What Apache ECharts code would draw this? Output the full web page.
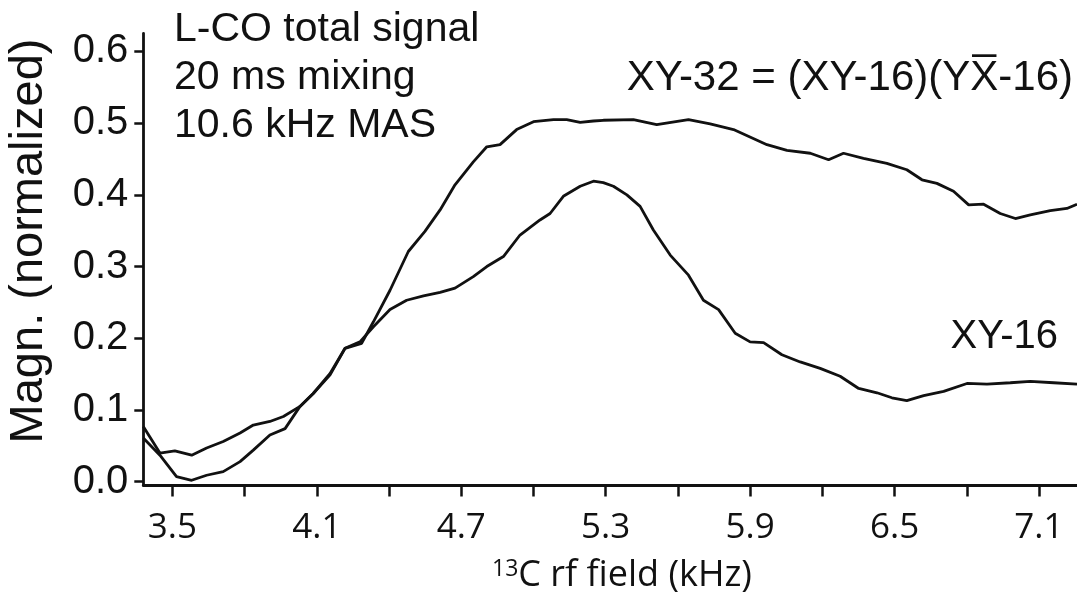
<!DOCTYPE html>
<html>
<head>
<meta charset="utf-8">
<script src="https://cdn.jsdelivr.net/npm/echarts@6/dist/echarts.min.js"></script>
<style>
html,body{margin:0;padding:0;background:#fff;}
#chart{width:1077px;height:596px;}
</style>
</head>
<body>
<div id="chart"></div>
<script>
// ---- data ----
const xy16X = [3.379,3.448,3.510,3.580,3.642,3.711,3.781,3.836,3.905,3.961,4.030,4.085,4.155,4.217,4.279,4.335,4.404,4.473,4.543,4.612,4.674,4.750,4.806,4.875,4.944,5.027,5.069,5.124,5.194,5.249,5.290,5.332,5.388,5.443,5.498,5.568,5.644,5.706,5.769,5.838,5.900,5.956,6.032,6.108,6.191,6.274,6.351,6.427,6.489,6.551,6.621,6.704,6.801,6.884,6.981,7.064,7.161,7.258];
const xy16Y = [0.077,0.040,0.043,0.037,0.047,0.056,0.068,0.079,0.084,0.091,0.105,0.123,0.151,0.186,0.195,0.216,0.240,0.253,0.259,0.264,0.270,0.286,0.300,0.314,0.344,0.365,0.374,0.398,0.412,0.419,0.417,0.412,0.400,0.384,0.351,0.316,0.288,0.253,0.240,0.207,0.195,0.194,0.177,0.167,0.158,0.147,0.130,0.124,0.117,0.113,0.120,0.126,0.137,0.136,0.138,0.140,0.138,0.136];
const xy32X = [3.379,3.448,3.517,3.580,3.642,3.711,3.781,3.836,3.905,3.968,4.030,4.085,4.155,4.217,4.286,4.335,4.404,4.480,4.549,4.612,4.674,4.750,4.806,4.861,4.930,5.000,5.083,5.138,5.194,5.249,5.290,5.415,5.512,5.644,5.734,5.831,5.970,6.053,6.150,6.226,6.288,6.371,6.468,6.551,6.614,6.676,6.745,6.808,6.870,6.939,7.002,7.064,7.147,7.216,7.258];
const xy32Y = [0.061,0.037,0.007,0.002,0.009,0.014,0.028,0.044,0.065,0.074,0.105,0.123,0.149,0.186,0.193,0.223,0.267,0.321,0.349,0.379,0.414,0.446,0.467,0.470,0.491,0.502,0.505,0.505,0.501,0.503,0.504,0.505,0.498,0.505,0.499,0.491,0.470,0.462,0.458,0.449,0.458,0.451,0.444,0.435,0.421,0.416,0.405,0.386,0.387,0.374,0.367,0.372,0.378,0.381,0.387];
const xTickValues = [3.5,3.8,4.1,4.4,4.7,5.0,5.3,5.6,5.9,6.2,6.5,6.8,7.1];
const xLabelValues = [3.5,4.1,4.7,5.3,5.9,6.5,7.1];
const yTickValues = [0,0.1,0.2,0.3,0.4,0.5,0.6];

const pairs = (xs, ys) => xs.map((x, i) => [x, ys[i]]);
const INK = '#111';
const sansA = '"Liberation Sans", Arial, sans-serif';
const sansB = '"Open Sans", "Noto Sans", sans-serif';

const chart = echarts.init(document.getElementById('chart'), null, {renderer: 'canvas'});
chart.setOption({
  backgroundColor: '#fff',
  animation: false,
  grid: {left: 143.3, right: 0, top: 33.5, bottom: 110.5, containLabel: false},
  xAxis: {
    type: 'value', min: 3.379, max: 7.258,
    axisLine: {show: true, onZero: false, lineStyle: {color: INK, width: 2.8}},
    axisTick: {show: true, customValues: xTickValues, length: 11, lineStyle: {color: INK, width: 2.5}},
    axisLabel: {customValues: xLabelValues, formatter: v => v.toFixed(1), fontFamily: sansB, fontSize: 35, color: INK, margin: 25},
    splitLine: {show: false}
  },
  yAxis: {
    type: 'value', min: -0.0053, max: 0.625,
    axisLine: {show: true, onZero: false, lineStyle: {color: INK, width: 2.8}},
    axisTick: {show: true, customValues: yTickValues, length: 9, lineStyle: {color: INK, width: 2.5}},
    axisLabel: {customValues: yTickValues, formatter: v => v.toFixed(1), fontFamily: sansA, fontSize: 40, color: INK, margin: 15},
    splitLine: {show: false}
  },
  series: [
    {name: 'XY-32', type: 'line', data: pairs(xy32X, xy32Y), showSymbol: false, lineStyle: {color: INK, width: 2.8}, itemStyle: {color: INK}},
    {name: 'XY-16', type: 'line', data: pairs(xy16X, xy16Y), showSymbol: false, lineStyle: {color: INK, width: 2.8}, itemStyle: {color: INK}}
  ],
  graphic: [
    {type: 'text', x: 174, y: 29.7, style: {text: 'L-CO total signal', font: '41px ' + sansA, fill: INK, align: 'left', verticalAlign: 'middle'}},
    {type: 'text', x: 174, y: 77.7, style: {text: '20 ms mixing', font: '41px ' + sansA, fill: INK, align: 'left', verticalAlign: 'middle'}},
    {type: 'text', x: 174, y: 125.3, style: {text: '10.6 kHz MAS', font: '41px ' + sansA, fill: INK, align: 'left', verticalAlign: 'middle'}},
    {type: 'text', x: 1073, y: 78.4, style: {text: 'XY-32 = (XY-16)(YX\u0305-16)', font: '42px ' + sansA, fill: INK, align: 'right', verticalAlign: 'middle'}},
    {type: 'text', x: 1058, y: 337, style: {text: 'XY-16', font: '40px ' + sansA, fill: INK, align: 'right', verticalAlign: 'middle'}},
    {type: 'text', x: 29, y: 241, rotation: Math.PI / 2, style: {text: 'Magn. (normalized)', font: '47px ' + sansA, fill: INK, align: 'center', verticalAlign: 'middle'}},
    {type: 'text', x: 622, y: 576, style: {
      text: '{sup|13}{n|C rf field (kHz)}', fill: INK, align: 'center', verticalAlign: 'middle',
      rich: {
        sup: {fontFamily: sansB, fontSize: 23, fill: INK, verticalAlign: 'top', padding: [0, 0, 14, 0]},
        n: {fontFamily: sansB, fontSize: 36, fill: INK}
      }
    }}
  ]
});
</script>
</body>
</html>
